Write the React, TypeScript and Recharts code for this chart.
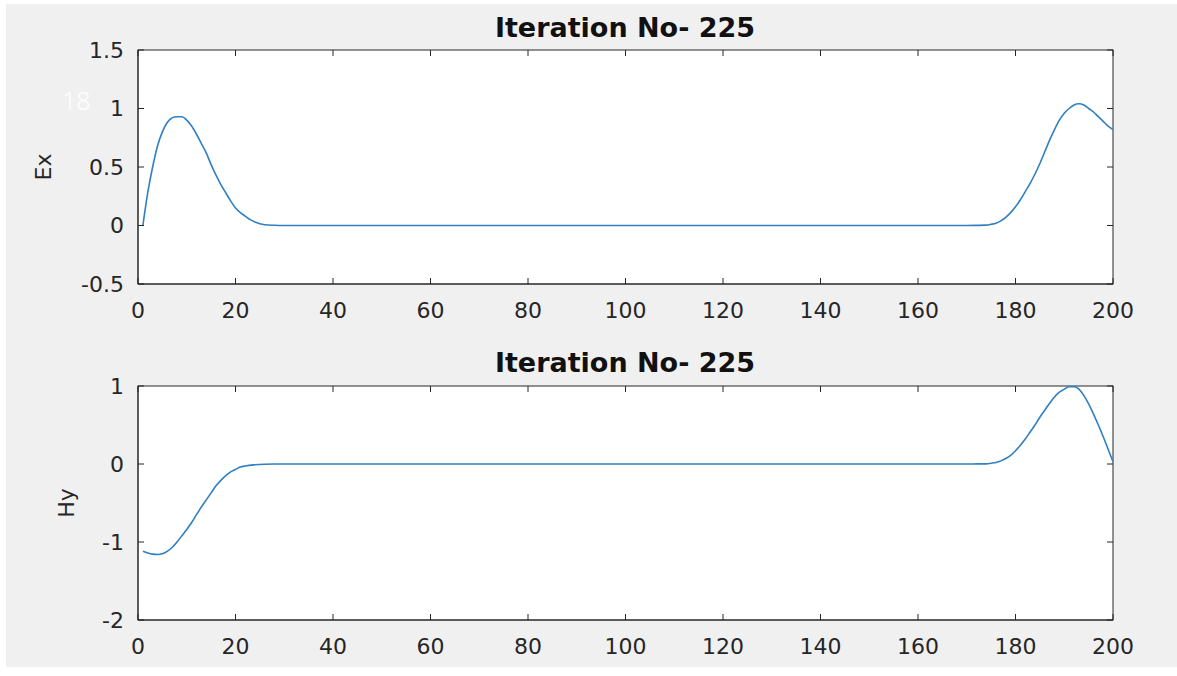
import { LineChart, Line, XAxis, YAxis } from "recharts";

// x positions of samples (cell index)
const xTicks = [0, 20, 40, 60, 80, 100, 120, 140, 160, 180, 200];
const exTicks = [-0.5, 0, 0.5, 1, 1.5];
const hyTicks = [-2, -1, 0, 1];

const exX = [
  1, 2, 3, 4, 5, 6, 7, 8, 9, 10, 11, 12, 13, 14, 15, 16, 17, 18, 19, 20, 21, 22, 23, 24, 25, 26, 28, 30,
  60, 100, 140, 170, 172,
  174, 175, 176, 177, 178, 179, 180, 181, 182, 183, 184, 185, 186, 187, 188, 189, 190, 191, 192, 193, 194,
  195, 196, 197, 198, 199, 200,
];
const exY = [
  0, 0.28, 0.5, 0.68, 0.8, 0.88, 0.92, 0.93, 0.93, 0.9, 0.85, 0.78, 0.7, 0.62, 0.52, 0.43, 0.35, 0.28, 0.21,
  0.15, 0.11, 0.08, 0.05, 0.03, 0.015, 0.007, 0.002, 0,
  0, 0, 0, 0, 0.001,
  0.003, 0.01, 0.02, 0.04, 0.07, 0.11, 0.16, 0.22, 0.29, 0.36, 0.44, 0.53, 0.63, 0.73, 0.82, 0.9, 0.96, 1.0,
  1.03, 1.04, 1.03, 1.0, 0.97, 0.93, 0.89, 0.85, 0.82,
];

const hyX = [
  1, 2, 3, 4, 5, 6, 7, 8, 9, 10, 11, 12, 13, 14, 15, 16, 17, 18, 19, 20, 21, 22, 24, 26, 28,
  60, 100, 140, 170, 172,
  174, 175, 176, 177, 178, 179, 180, 181, 182, 183, 184, 185, 186, 187, 188, 189, 190, 191, 192, 193, 194,
  195, 196, 197, 198, 199, 200,
];
const hyY = [
  -1.12, -1.14, -1.155, -1.16, -1.15, -1.12, -1.07, -1.0, -0.92, -0.84, -0.75, -0.65, -0.55, -0.46, -0.37,
  -0.28, -0.21, -0.15, -0.1, -0.07, -0.04, -0.025, -0.01, -0.003, 0,
  0, 0, 0, 0, 0.001,
  0.002, 0.01, 0.02, 0.04, 0.07, 0.11, 0.17, 0.24, 0.32, 0.41, 0.5, 0.6, 0.69, 0.78, 0.86, 0.92, 0.96, 0.99,
  0.99, 0.96, 0.88, 0.77, 0.64, 0.5, 0.35, 0.19, 0.03,
];

const exData = exX.map((x, i) => ({ x, v: exY[i] }));
const hyData = hyX.map((x, i) => ({ x, v: hyY[i] }));

const ink = "#262626";
const lineColor = "#2f7fc1";
const PLOT_LEFT = 138;
const PLOT_RIGHT = 1113;
const PLOT_H = 234;
const TICK = 6;

// bottom label + matching inward tick on the top edge of the box
function makeXTick(plotTop: number) {
  return (props: any) => {
    const { x, y, payload } = props;
    return (
      <g>
        <line x1={x} x2={x} y1={plotTop} y2={plotTop + TICK} stroke={ink} />
        <text x={x} y={y} dy="0.71em" textAnchor="middle" fontSize={22} fontFamily="DejaVu Sans" fill={ink}>
          {payload.value}
        </text>
      </g>
    );
  };
}

// left label + matching inward tick on the right edge of the box
function YTick(props: any) {
  const { x, y, payload } = props;
  return (
    <g>
      <line x1={PLOT_RIGHT - TICK} x2={PLOT_RIGHT} y1={y} y2={y} stroke={ink} />
      <text x={x} y={y} dy="0.36em" textAnchor="end" fontSize={22} fontFamily="DejaVu Sans" fill={ink}>
        {payload.value}
      </text>
    </g>
  );
}

function Panel({ data, yTicks, yDomain, top, height, marginTop }: any) {
  return (
    <div style={{ position: "absolute", left: 0, top }}>
      <LineChart
        width={1177}
        height={height}
        data={data}
        margin={{ top: marginTop, right: 1177 - PLOT_RIGHT, bottom: height - marginTop - PLOT_H - 30, left: 78 }}
      >
        <rect
          x={PLOT_LEFT}
          y={marginTop}
          width={PLOT_RIGHT - PLOT_LEFT}
          height={PLOT_H}
          fill="#ffffff"
          stroke={ink}
        />
        <XAxis
          dataKey="x"
          type="number"
          domain={[0, 200]}
          ticks={xTicks}
          interval={0}
          height={30}
          tickSize={-TICK}
          tickMargin={24}
          tick={makeXTick(marginTop)}
          stroke={ink}
          allowDataOverflow
        />
        <YAxis
          type="number"
          domain={yDomain}
          ticks={yTicks}
          interval={0}
          width={60}
          tickSize={-TICK}
          tickMargin={20}
          tick={YTick}
          stroke={ink}
          allowDataOverflow
        />
        <Line
          type="monotone"
          dataKey="v"
          stroke={lineColor}
          strokeWidth={1.6}
          dot={false}
          isAnimationActive={false}
        />
      </LineChart>
    </div>
  );
}

const titleStyle: any = {
  position: "absolute",
  left: 625,
  transform: "translateX(-50%)",
  fontFamily: "DejaVu Sans",
  fontWeight: "bold",
  fontSize: 27,
  lineHeight: 1,
  color: "#111",
  whiteSpace: "nowrap",
};

const axisLabelStyle: any = {
  position: "absolute",
  fontFamily: "DejaVu Sans",
  fontSize: 22,
  lineHeight: 1,
  color: ink,
  transform: "translate(-50%, -50%) rotate(-90deg)",
  whiteSpace: "nowrap",
};

export default function App() {
  return (
    <div
      style={{
        position: "fixed",
        left: 0,
        top: 0,
        width: 1177,
        height: 676,
        background: "#ffffff",
        overflow: "hidden",
      }}
    >
      <div style={{ position: "absolute", left: 6, top: 4, width: 1171, height: 663, background: "#f0f0f0" }} />
      <Panel data={exData} yTicks={exTicks} yDomain={[-0.5, 1.5]} top={0} height={335} marginTop={50} />
      <Panel data={hyData} yTicks={hyTicks} yDomain={[-2, 1]} top={320} height={356} marginTop={66} />
      <div style={{ ...titleStyle, top: 14 }}>Iteration No- 225</div>
      <div style={{ ...titleStyle, top: 349 }}>Iteration No- 225</div>
      <div style={{ ...axisLabelStyle, left: 44, top: 167 }}>Ex</div>
      <div style={{ ...axisLabelStyle, left: 67, top: 503 }}>Hy</div>
      <div
        style={{
          position: "absolute",
          left: 62,
          top: 88,
          fontFamily: "Noto Sans",
          fontWeight: 300,
          fontSize: 25,
          lineHeight: 1,
          color: "#ffffff",
        }}
      >
        18
      </div>
    </div>
  );
}
